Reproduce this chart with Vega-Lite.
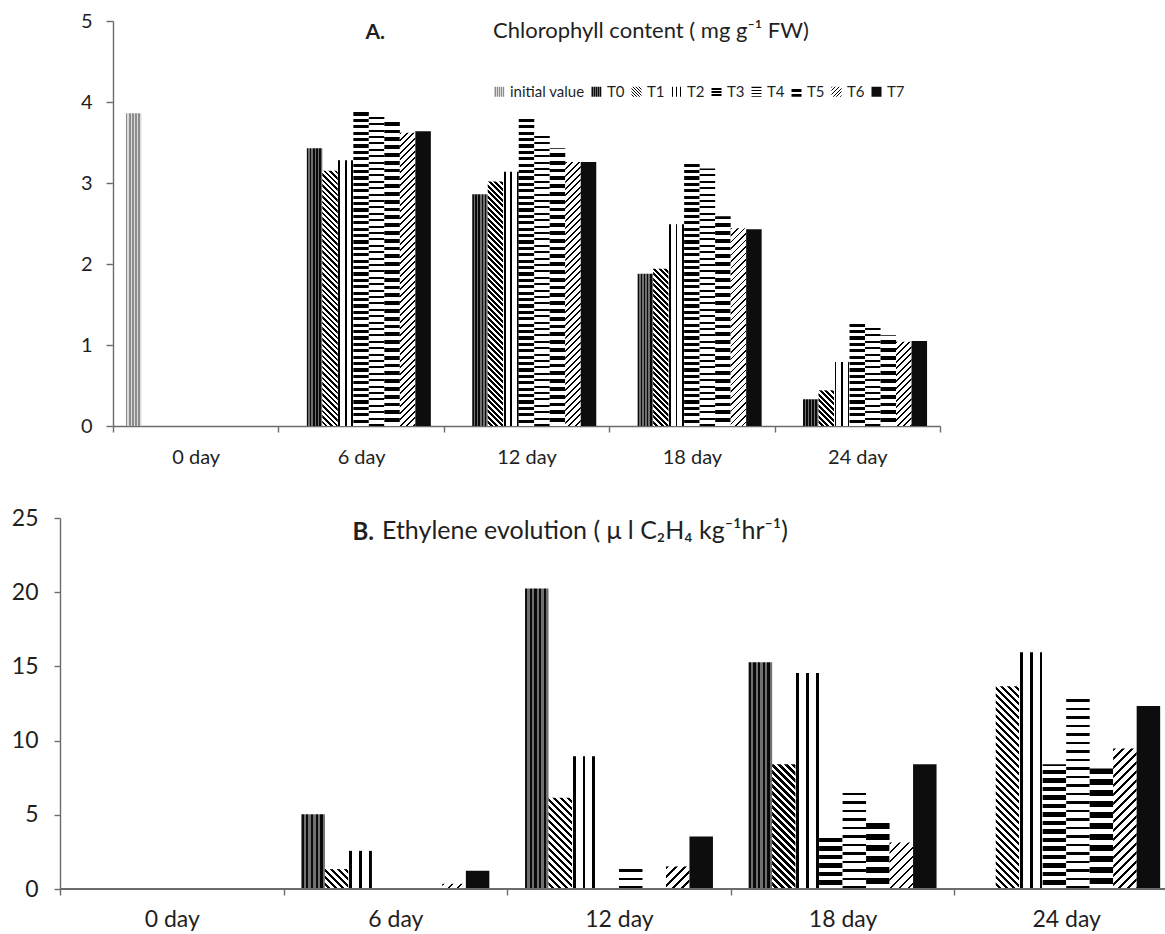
{
"$schema":"https://vega.github.io/schema/vega-lite/v6.json",
"background":"white",
"padding":{"left":11,"top":11,"right":0,"bottom":0},
"config":{"font":"Lato","view":{"stroke":null},"axis":{"grid":false,"labelColor":"#1f1f1f","titleColor":"#1f1f1f","domainColor":"#6b6b6b","tickColor":"#6b6b6b","domainWidth":1.4,"tickWidth":1.4,"labelFont":"Lato","titleFont":"Lato"},"title":{"color":"#1f1f1f","font":"Lato"},"legend":{"labelColor":"#1f1f1f","labelFont":"Lato"}},
"params":[
{"name":"pSQ","value":[{"offset":0,"color":"#fff"},{"offset":0.01,"color":"#fff"},{"offset":0.01,"color":"#000"},{"offset":0.02,"color":"#000"},{"offset":0.02,"color":"#fff"},{"offset":0.03,"color":"#fff"},{"offset":0.03,"color":"#000"},{"offset":0.04,"color":"#000"},{"offset":0.04,"color":"#fff"},{"offset":0.05,"color":"#fff"},{"offset":0.05,"color":"#000"},{"offset":0.06,"color":"#000"},{"offset":0.06,"color":"#fff"},{"offset":0.07,"color":"#fff"},{"offset":0.07,"color":"#000"},{"offset":0.08,"color":"#000"},{"offset":0.08,"color":"#fff"},{"offset":0.09,"color":"#fff"},{"offset":0.09,"color":"#000"},{"offset":0.1,"color":"#000"},{"offset":0.1,"color":"#fff"},{"offset":0.11,"color":"#fff"},{"offset":0.11,"color":"#000"},{"offset":0.12,"color":"#000"},{"offset":0.12,"color":"#fff"},{"offset":0.13,"color":"#fff"},{"offset":0.13,"color":"#000"},{"offset":0.14,"color":"#000"},{"offset":0.14,"color":"#fff"},{"offset":0.15,"color":"#fff"},{"offset":0.15,"color":"#000"},{"offset":0.16,"color":"#000"},{"offset":0.16,"color":"#fff"},{"offset":0.17,"color":"#fff"},{"offset":0.17,"color":"#000"},{"offset":0.18,"color":"#000"},{"offset":0.18,"color":"#fff"},{"offset":0.19,"color":"#fff"},{"offset":0.19,"color":"#000"},{"offset":0.2,"color":"#000"},{"offset":0.2,"color":"#fff"},{"offset":0.21,"color":"#fff"},{"offset":0.21,"color":"#000"},{"offset":0.22,"color":"#000"},{"offset":0.22,"color":"#fff"},{"offset":0.23,"color":"#fff"},{"offset":0.23,"color":"#000"},{"offset":0.24,"color":"#000"},{"offset":0.24,"color":"#fff"},{"offset":0.25,"color":"#fff"},{"offset":0.25,"color":"#000"},{"offset":0.26,"color":"#000"},{"offset":0.26,"color":"#fff"},{"offset":0.27,"color":"#fff"},{"offset":0.27,"color":"#000"},{"offset":0.28,"color":"#000"},{"offset":0.28,"color":"#fff"},{"offset":0.29,"color":"#fff"},{"offset":0.29,"color":"#000"},{"offset":0.3,"color":"#000"},{"offset":0.3,"color":"#fff"},{"offset":0.31,"color":"#fff"},{"offset":0.31,"color":"#000"},{"offset":0.32,"color":"#000"},{"offset":0.32,"color":"#fff"},{"offset":0.33,"color":"#fff"},{"offset":0.33,"color":"#000"},{"offset":0.34,"color":"#000"},{"offset":0.34,"color":"#fff"},{"offset":0.35,"color":"#fff"},{"offset":0.35,"color":"#000"},{"offset":0.36,"color":"#000"},{"offset":0.36,"color":"#fff"},{"offset":0.37,"color":"#fff"},{"offset":0.37,"color":"#000"},{"offset":0.38,"color":"#000"},{"offset":0.38,"color":"#fff"},{"offset":0.39,"color":"#fff"},{"offset":0.39,"color":"#000"},{"offset":0.4,"color":"#000"},{"offset":0.4,"color":"#fff"},{"offset":0.41,"color":"#fff"},{"offset":0.41,"color":"#000"},{"offset":0.42,"color":"#000"},{"offset":0.42,"color":"#fff"},{"offset":0.43,"color":"#fff"},{"offset":0.43,"color":"#000"},{"offset":0.44,"color":"#000"},{"offset":0.44,"color":"#fff"},{"offset":0.45,"color":"#fff"},{"offset":0.45,"color":"#000"},{"offset":0.46,"color":"#000"},{"offset":0.46,"color":"#fff"},{"offset":0.47,"color":"#fff"},{"offset":0.47,"color":"#000"},{"offset":0.48,"color":"#000"},{"offset":0.48,"color":"#fff"},{"offset":0.49,"color":"#fff"},{"offset":0.49,"color":"#000"},{"offset":0.5,"color":"#000"},{"offset":0.5,"color":"#fff"},{"offset":0.51,"color":"#fff"},{"offset":0.51,"color":"#000"},{"offset":0.52,"color":"#000"},{"offset":0.52,"color":"#fff"},{"offset":0.53,"color":"#fff"},{"offset":0.53,"color":"#000"},{"offset":0.54,"color":"#000"},{"offset":0.54,"color":"#fff"},{"offset":0.55,"color":"#fff"},{"offset":0.55,"color":"#000"},{"offset":0.56,"color":"#000"},{"offset":0.56,"color":"#fff"},{"offset":0.57,"color":"#fff"},{"offset":0.57,"color":"#000"},{"offset":0.58,"color":"#000"},{"offset":0.58,"color":"#fff"},{"offset":0.59,"color":"#fff"},{"offset":0.59,"color":"#000"},{"offset":0.6,"color":"#000"},{"offset":0.6,"color":"#fff"},{"offset":0.61,"color":"#fff"},{"offset":0.61,"color":"#000"},{"offset":0.62,"color":"#000"},{"offset":0.62,"color":"#fff"},{"offset":0.63,"color":"#fff"},{"offset":0.63,"color":"#000"},{"offset":0.64,"color":"#000"},{"offset":0.64,"color":"#fff"},{"offset":0.65,"color":"#fff"},{"offset":0.65,"color":"#000"},{"offset":0.66,"color":"#000"},{"offset":0.66,"color":"#fff"},{"offset":0.67,"color":"#fff"},{"offset":0.67,"color":"#000"},{"offset":0.68,"color":"#000"},{"offset":0.68,"color":"#fff"},{"offset":0.69,"color":"#fff"},{"offset":0.69,"color":"#000"},{"offset":0.7,"color":"#000"},{"offset":0.7,"color":"#fff"},{"offset":0.71,"color":"#fff"},{"offset":0.71,"color":"#000"},{"offset":0.72,"color":"#000"},{"offset":0.72,"color":"#fff"},{"offset":0.73,"color":"#fff"},{"offset":0.73,"color":"#000"},{"offset":0.74,"color":"#000"},{"offset":0.74,"color":"#fff"},{"offset":0.75,"color":"#fff"},{"offset":0.75,"color":"#000"},{"offset":0.76,"color":"#000"},{"offset":0.76,"color":"#fff"},{"offset":0.77,"color":"#fff"},{"offset":0.77,"color":"#000"},{"offset":0.78,"color":"#000"},{"offset":0.78,"color":"#fff"},{"offset":0.79,"color":"#fff"},{"offset":0.79,"color":"#000"},{"offset":0.8,"color":"#000"},{"offset":0.8,"color":"#fff"},{"offset":0.81,"color":"#fff"},{"offset":0.81,"color":"#000"},{"offset":0.82,"color":"#000"},{"offset":0.82,"color":"#fff"},{"offset":0.83,"color":"#fff"},{"offset":0.83,"color":"#000"},{"offset":0.84,"color":"#000"},{"offset":0.84,"color":"#fff"},{"offset":0.85,"color":"#fff"},{"offset":0.85,"color":"#000"},{"offset":0.86,"color":"#000"},{"offset":0.86,"color":"#fff"},{"offset":0.87,"color":"#fff"},{"offset":0.87,"color":"#000"},{"offset":0.88,"color":"#000"},{"offset":0.88,"color":"#fff"},{"offset":0.89,"color":"#fff"},{"offset":0.89,"color":"#000"},{"offset":0.9,"color":"#000"},{"offset":0.9,"color":"#fff"},{"offset":0.91,"color":"#fff"},{"offset":0.91,"color":"#000"},{"offset":0.92,"color":"#000"},{"offset":0.92,"color":"#fff"},{"offset":0.93,"color":"#fff"},{"offset":0.93,"color":"#000"},{"offset":0.94,"color":"#000"},{"offset":0.94,"color":"#fff"},{"offset":0.95,"color":"#fff"},{"offset":0.95,"color":"#000"},{"offset":0.96,"color":"#000"},{"offset":0.96,"color":"#fff"},{"offset":0.97,"color":"#fff"},{"offset":0.97,"color":"#000"},{"offset":0.98,"color":"#000"},{"offset":0.98,"color":"#fff"},{"offset":0.99,"color":"#fff"},{"offset":0.99,"color":"#000"},{"offset":1,"color":"#000"}]},
{"name":"pTH","value":[{"offset":0,"color":"#000"},{"offset":0.006,"color":"#000"},{"offset":0.006,"color":"#fff"},{"offset":0.02,"color":"#fff"},{"offset":0.02,"color":"#000"},{"offset":0.026,"color":"#000"},{"offset":0.026,"color":"#fff"},{"offset":0.04,"color":"#fff"},{"offset":0.04,"color":"#000"},{"offset":0.046,"color":"#000"},{"offset":0.046,"color":"#fff"},{"offset":0.06,"color":"#fff"},{"offset":0.06,"color":"#000"},{"offset":0.066,"color":"#000"},{"offset":0.066,"color":"#fff"},{"offset":0.08,"color":"#fff"},{"offset":0.08,"color":"#000"},{"offset":0.086,"color":"#000"},{"offset":0.086,"color":"#fff"},{"offset":0.1,"color":"#fff"},{"offset":0.1,"color":"#000"},{"offset":0.106,"color":"#000"},{"offset":0.106,"color":"#fff"},{"offset":0.12,"color":"#fff"},{"offset":0.12,"color":"#000"},{"offset":0.126,"color":"#000"},{"offset":0.126,"color":"#fff"},{"offset":0.14,"color":"#fff"},{"offset":0.14,"color":"#000"},{"offset":0.146,"color":"#000"},{"offset":0.146,"color":"#fff"},{"offset":0.16,"color":"#fff"},{"offset":0.16,"color":"#000"},{"offset":0.166,"color":"#000"},{"offset":0.166,"color":"#fff"},{"offset":0.18,"color":"#fff"},{"offset":0.18,"color":"#000"},{"offset":0.186,"color":"#000"},{"offset":0.186,"color":"#fff"},{"offset":0.2,"color":"#fff"},{"offset":0.2,"color":"#000"},{"offset":0.206,"color":"#000"},{"offset":0.206,"color":"#fff"},{"offset":0.22,"color":"#fff"},{"offset":0.22,"color":"#000"},{"offset":0.226,"color":"#000"},{"offset":0.226,"color":"#fff"},{"offset":0.24,"color":"#fff"},{"offset":0.24,"color":"#000"},{"offset":0.246,"color":"#000"},{"offset":0.246,"color":"#fff"},{"offset":0.26,"color":"#fff"},{"offset":0.26,"color":"#000"},{"offset":0.266,"color":"#000"},{"offset":0.266,"color":"#fff"},{"offset":0.28,"color":"#fff"},{"offset":0.28,"color":"#000"},{"offset":0.286,"color":"#000"},{"offset":0.286,"color":"#fff"},{"offset":0.3,"color":"#fff"},{"offset":0.3,"color":"#000"},{"offset":0.306,"color":"#000"},{"offset":0.306,"color":"#fff"},{"offset":0.32,"color":"#fff"},{"offset":0.32,"color":"#000"},{"offset":0.326,"color":"#000"},{"offset":0.326,"color":"#fff"},{"offset":0.34,"color":"#fff"},{"offset":0.34,"color":"#000"},{"offset":0.346,"color":"#000"},{"offset":0.346,"color":"#fff"},{"offset":0.36,"color":"#fff"},{"offset":0.36,"color":"#000"},{"offset":0.366,"color":"#000"},{"offset":0.366,"color":"#fff"},{"offset":0.38,"color":"#fff"},{"offset":0.38,"color":"#000"},{"offset":0.386,"color":"#000"},{"offset":0.386,"color":"#fff"},{"offset":0.4,"color":"#fff"},{"offset":0.4,"color":"#000"},{"offset":0.406,"color":"#000"},{"offset":0.406,"color":"#fff"},{"offset":0.42,"color":"#fff"},{"offset":0.42,"color":"#000"},{"offset":0.426,"color":"#000"},{"offset":0.426,"color":"#fff"},{"offset":0.44,"color":"#fff"},{"offset":0.44,"color":"#000"},{"offset":0.446,"color":"#000"},{"offset":0.446,"color":"#fff"},{"offset":0.46,"color":"#fff"},{"offset":0.46,"color":"#000"},{"offset":0.466,"color":"#000"},{"offset":0.466,"color":"#fff"},{"offset":0.48,"color":"#fff"},{"offset":0.48,"color":"#000"},{"offset":0.486,"color":"#000"},{"offset":0.486,"color":"#fff"},{"offset":0.5,"color":"#fff"},{"offset":0.5,"color":"#000"},{"offset":0.506,"color":"#000"},{"offset":0.506,"color":"#fff"},{"offset":0.52,"color":"#fff"},{"offset":0.52,"color":"#000"},{"offset":0.526,"color":"#000"},{"offset":0.526,"color":"#fff"},{"offset":0.54,"color":"#fff"},{"offset":0.54,"color":"#000"},{"offset":0.546,"color":"#000"},{"offset":0.546,"color":"#fff"},{"offset":0.56,"color":"#fff"},{"offset":0.56,"color":"#000"},{"offset":0.566,"color":"#000"},{"offset":0.566,"color":"#fff"},{"offset":0.58,"color":"#fff"},{"offset":0.58,"color":"#000"},{"offset":0.586,"color":"#000"},{"offset":0.586,"color":"#fff"},{"offset":0.6,"color":"#fff"},{"offset":0.6,"color":"#000"},{"offset":0.606,"color":"#000"},{"offset":0.606,"color":"#fff"},{"offset":0.62,"color":"#fff"},{"offset":0.62,"color":"#000"},{"offset":0.626,"color":"#000"},{"offset":0.626,"color":"#fff"},{"offset":0.64,"color":"#fff"},{"offset":0.64,"color":"#000"},{"offset":0.646,"color":"#000"},{"offset":0.646,"color":"#fff"},{"offset":0.66,"color":"#fff"},{"offset":0.66,"color":"#000"},{"offset":0.666,"color":"#000"},{"offset":0.666,"color":"#fff"},{"offset":0.68,"color":"#fff"},{"offset":0.68,"color":"#000"},{"offset":0.686,"color":"#000"},{"offset":0.686,"color":"#fff"},{"offset":0.7,"color":"#fff"},{"offset":0.7,"color":"#000"},{"offset":0.706,"color":"#000"},{"offset":0.706,"color":"#fff"},{"offset":0.72,"color":"#fff"},{"offset":0.72,"color":"#000"},{"offset":0.726,"color":"#000"},{"offset":0.726,"color":"#fff"},{"offset":0.74,"color":"#fff"},{"offset":0.74,"color":"#000"},{"offset":0.746,"color":"#000"},{"offset":0.746,"color":"#fff"},{"offset":0.76,"color":"#fff"},{"offset":0.76,"color":"#000"},{"offset":0.766,"color":"#000"},{"offset":0.766,"color":"#fff"},{"offset":0.78,"color":"#fff"},{"offset":0.78,"color":"#000"},{"offset":0.786,"color":"#000"},{"offset":0.786,"color":"#fff"},{"offset":0.8,"color":"#fff"},{"offset":0.8,"color":"#000"},{"offset":0.806,"color":"#000"},{"offset":0.806,"color":"#fff"},{"offset":0.82,"color":"#fff"},{"offset":0.82,"color":"#000"},{"offset":0.826,"color":"#000"},{"offset":0.826,"color":"#fff"},{"offset":0.84,"color":"#fff"},{"offset":0.84,"color":"#000"},{"offset":0.846,"color":"#000"},{"offset":0.846,"color":"#fff"},{"offset":0.86,"color":"#fff"},{"offset":0.86,"color":"#000"},{"offset":0.866,"color":"#000"},{"offset":0.866,"color":"#fff"},{"offset":0.88,"color":"#fff"},{"offset":0.88,"color":"#000"},{"offset":0.886,"color":"#000"},{"offset":0.886,"color":"#fff"},{"offset":0.9,"color":"#fff"},{"offset":0.9,"color":"#000"},{"offset":0.906,"color":"#000"},{"offset":0.906,"color":"#fff"},{"offset":0.92,"color":"#fff"},{"offset":0.92,"color":"#000"},{"offset":0.926,"color":"#000"},{"offset":0.926,"color":"#fff"},{"offset":0.94,"color":"#fff"},{"offset":0.94,"color":"#000"},{"offset":0.946,"color":"#000"},{"offset":0.946,"color":"#fff"},{"offset":0.96,"color":"#fff"},{"offset":0.96,"color":"#000"},{"offset":0.966,"color":"#000"},{"offset":0.966,"color":"#fff"},{"offset":0.98,"color":"#fff"},{"offset":0.98,"color":"#000"},{"offset":0.986,"color":"#000"},{"offset":0.986,"color":"#fff"},{"offset":1,"color":"#fff"}]},
{"name":"pLT","value":[{"offset":0,"color":"#8c8c8c"},{"offset":0.1,"color":"#8c8c8c"},{"offset":0.1,"color":"#dadada"},{"offset":0.2,"color":"#dadada"},{"offset":0.2,"color":"#8c8c8c"},{"offset":0.3,"color":"#8c8c8c"},{"offset":0.3,"color":"#dadada"},{"offset":0.4,"color":"#dadada"},{"offset":0.4,"color":"#8c8c8c"},{"offset":0.5,"color":"#8c8c8c"},{"offset":0.5,"color":"#dadada"},{"offset":0.6,"color":"#dadada"},{"offset":0.6,"color":"#8c8c8c"},{"offset":0.7,"color":"#8c8c8c"},{"offset":0.7,"color":"#dadada"},{"offset":0.8,"color":"#dadada"},{"offset":0.8,"color":"#8c8c8c"},{"offset":0.9,"color":"#8c8c8c"},{"offset":0.9,"color":"#dadada"},{"offset":1,"color":"#dadada"}]},
{"name":"pDK","value":[{"offset":0,"color":"#0a0a0a"},{"offset":0.1,"color":"#0a0a0a"},{"offset":0.1,"color":"#707070"},{"offset":0.2,"color":"#707070"},{"offset":0.2,"color":"#0a0a0a"},{"offset":0.3,"color":"#0a0a0a"},{"offset":0.3,"color":"#707070"},{"offset":0.4,"color":"#707070"},{"offset":0.4,"color":"#0a0a0a"},{"offset":0.5,"color":"#0a0a0a"},{"offset":0.5,"color":"#707070"},{"offset":0.6,"color":"#707070"},{"offset":0.6,"color":"#0a0a0a"},{"offset":0.7,"color":"#0a0a0a"},{"offset":0.7,"color":"#707070"},{"offset":0.8,"color":"#707070"},{"offset":0.8,"color":"#0a0a0a"},{"offset":0.9,"color":"#0a0a0a"},{"offset":0.9,"color":"#707070"},{"offset":1,"color":"#707070"}]},
{"name":"pVL","value":[{"offset":0,"color":"#fff"},{"offset":0.03,"color":"#fff"},{"offset":0.03,"color":"#000"},{"offset":0.15,"color":"#000"},{"offset":0.15,"color":"#fff"},{"offset":0.45,"color":"#fff"},{"offset":0.45,"color":"#000"},{"offset":0.57,"color":"#000"},{"offset":0.57,"color":"#fff"},{"offset":0.87,"color":"#fff"},{"offset":0.87,"color":"#000"},{"offset":0.99,"color":"#000"},{"offset":0.99,"color":"#fff"},{"offset":1,"color":"#fff"}]}
],
"datasets":{
"chl":[
{"day":"0 day","series":"initial value","value":3.86},
{"day":"6 day","series":"T0","value":3.43},{"day":"6 day","series":"T1","value":3.15},{"day":"6 day","series":"T2","value":3.28},{"day":"6 day","series":"T3","value":3.88},{"day":"6 day","series":"T4","value":3.84},{"day":"6 day","series":"T5","value":3.79},{"day":"6 day","series":"T6","value":3.62},{"day":"6 day","series":"T7","value":3.64},
{"day":"12 day","series":"T0","value":2.86},{"day":"12 day","series":"T1","value":3.02},{"day":"12 day","series":"T2","value":3.14},{"day":"12 day","series":"T3","value":3.8},{"day":"12 day","series":"T4","value":3.62},{"day":"12 day","series":"T5","value":3.43},{"day":"12 day","series":"T6","value":3.26},{"day":"12 day","series":"T7","value":3.26},
{"day":"18 day","series":"T0","value":1.88},{"day":"18 day","series":"T1","value":1.94},{"day":"18 day","series":"T2","value":2.49},{"day":"18 day","series":"T3","value":3.26},{"day":"18 day","series":"T4","value":3.18},{"day":"18 day","series":"T5","value":2.59},{"day":"18 day","series":"T6","value":2.44},{"day":"18 day","series":"T7","value":2.43},
{"day":"24 day","series":"T0","value":0.33},{"day":"24 day","series":"T1","value":0.44},{"day":"24 day","series":"T2","value":0.79},{"day":"24 day","series":"T3","value":1.28},{"day":"24 day","series":"T4","value":1.25},{"day":"24 day","series":"T5","value":1.12},{"day":"24 day","series":"T6","value":1.04},{"day":"24 day","series":"T7","value":1.05}
],
"eth":[
{"day":"6 day","series":"T0","value":5.03},{"day":"6 day","series":"T1","value":1.34},{"day":"6 day","series":"T2","value":2.57},{"day":"6 day","series":"T6","value":0.35},{"day":"6 day","series":"T7","value":1.23},
{"day":"12 day","series":"T0","value":20.25},{"day":"12 day","series":"T1","value":6.15},{"day":"12 day","series":"T2","value":8.95},{"day":"12 day","series":"T4","value":1.45},{"day":"12 day","series":"T6","value":1.52},{"day":"12 day","series":"T7","value":3.53},
{"day":"18 day","series":"T0","value":15.28},{"day":"18 day","series":"T1","value":8.41},{"day":"18 day","series":"T2","value":14.56},{"day":"18 day","series":"T3","value":3.69},{"day":"18 day","series":"T4","value":6.67},{"day":"18 day","series":"T5","value":4.65},{"day":"18 day","series":"T6","value":3.13},{"day":"18 day","series":"T7","value":8.41},
{"day":"24 day","series":"T1","value":13.67},{"day":"24 day","series":"T2","value":15.95},{"day":"24 day","series":"T3","value":8.41},{"day":"24 day","series":"T4","value":12.98},{"day":"24 day","series":"T5","value":8.12},{"day":"24 day","series":"T6","value":9.46},{"day":"24 day","series":"T7","value":12.33}
]
},
"concat":[
{
"width":880,"height":405,
"data":{"name":"chl"},
"title":{"text":"Chlorophyll content ( mg g⁻¹ FW)","anchor":"start","frame":"group","dx":433,"offset":-42,"baseline":"middle","fontSize":22,"fontWeight":"normal"},
"mark":{"type":"bar"},
"encoding":{
"x":{"field":"day","type":"nominal","sort":null,"scale":{"domain":["0 day","6 day","12 day","18 day","24 day"],"range":[53,880],"paddingInner":0,"paddingOuter":0},"axis":{"title":null,"labelAngle":0,"labelFontSize":20,"labelPadding":15,"tickSize":6,"tickBand":"extent"}},
"xOffset":{"field":"series","type":"nominal","sort":null,"scale":{"domain":["initial value","T0","T1","T2","T3","T4","T5","T6","T7"],"paddingInner":0,"paddingOuter":0.835}},
"y":{"field":"value","type":"quantitative","scale":{"domain":[0,5],"nice":false},"axis":{"values":[0,1,2,3,4,5],"offset":-53,"labelFontSize":20,"labelPadding":14,"tickSize":7,"title":"A.","titleAngle":0,"titleFontWeight":"bold","titleFontSize":21,"titleAlign":"left","titleBaseline":"middle","titleX":252,"titleY":11}},
"color":{"field":"series","type":"nominal","sort":null,
"scale":{"domain":["initial value","T0","T1","T2","T3","T4","T5","T6","T7"],"range":[
{"expr":"{gradient:'linear',x1:0,y1:0,x2:1,y2:0,stops:pLT}"},
{"expr":"{gradient:'linear',x1:0,y1:0,x2:1,y2:0,stops:pDK}"},
{"expr":"{gradient:'linear',x1:0,y1:1,x2:7.5,y2:-6.5,stops:pSQ}"},
{"expr":"{gradient:'linear',x1:0,y1:0,x2:1,y2:0,stops:pVL}"},
{"expr":"{gradient:'linear',x1:1,y1:0,x2:1,y2:15,stops:pSQ}"},
{"expr":"{gradient:'linear',x1:1,y1:0,x2:1,y2:15,stops:pTH}"},
{"expr":"{gradient:'linear',x1:1,y1:0,x2:1,y2:25,stops:pSQ}"},
{"expr":"{gradient:'linear',x1:0,y1:0,x2:9,y2:9,stops:pTH}"},
"#0d0d0d"]},
"legend":{"title":null,"orient":"none","legendX":432,"legendY":63,"direction":"horizontal","columns":9,"symbolType":"square","symbolSize":100,"symbolStrokeWidth":0,"labelFontSize":15,"labelOffset":3,"columnPadding":4,"padding":0},
"condition":{"test":"true","value":{"expr":"datum.series==='initial value'?{gradient:'linear',x1:0,y1:0,x2:1,y2:0,stops:pLT}:datum.series==='T0'?{gradient:'linear',x1:0,y1:0,x2:1,y2:0,stops:pDK}:datum.series==='T1'?{gradient:'linear',x1:0,y1:1,x2:4262.5/(240.25+6561*datum.value*datum.value),y2:1-22275*datum.value/(240.25+6561*datum.value*datum.value),stops:pSQ}:datum.series==='T2'?{gradient:'linear',x1:0,y1:0,x2:1,y2:0,stops:pVL}:datum.series==='T3'?{gradient:'linear',x1:1,y1:1,x2:1,y2:1-3.951/datum.value,stops:pSQ}:datum.series==='T4'?{gradient:'linear',x1:1,y1:1,x2:1,y2:1-3.951/datum.value,stops:pTH}:datum.series==='T5'?{gradient:'linear',x1:1,y1:1,x2:1,y2:1-4.815/datum.value,stops:pSQ}:datum.series==='T6'?{gradient:'linear',x1:0,y1:0,x2:5037.5/(240.25+6561*datum.value*datum.value),y2:26325*datum.value/(240.25+6561*datum.value*datum.value),stops:pTH}:'#0d0d0d'"}}
}
}
},
{
"width":1105,"height":371,
"data":{"name":"eth"},
"title":{"text":"Ethylene evolution ( μ l C₂H₄ kg⁻¹hr⁻¹)","anchor":"start","frame":"group","dx":322,"offset":-49,"baseline":"middle","fontSize":25,"fontWeight":"normal"},
"layer":[
{"mark":{"type":"bar"},
"encoding":{
"x":{"field":"day","type":"nominal","sort":null,"scale":{"domain":["0 day","6 day","12 day","18 day","24 day"],"range":[0,1118],"paddingInner":0,"paddingOuter":0},"axis":{"title":null,"labelAngle":0,"labelFontSize":23,"labelPadding":13,"tickSize":6,"domain":false,"tickOffset":-111.8,"labelOffset":111.8}},
"xOffset":{"field":"series","type":"nominal","sort":null,"scale":{"domain":["T0","T1","T2","T3","T4","T5","T6","T7"],"paddingInner":0,"paddingOuter":0.76}},
"y":{"field":"value","type":"quantitative","scale":{"domain":[0,25],"nice":false},"axis":{"values":[0,5,10,15,20,25],"labelFontSize":23,"labelPadding":16,"tickSize":6,"title":"B.","titleAngle":0,"titleFontWeight":"bold","titleFontSize":24,"titleAlign":"left","titleBaseline":"middle","titleX":292,"titleY":14}},
"color":{"field":"series","type":"nominal","sort":null,"legend":null,"scale":{"domain":["T0","T1","T2","T3","T4","T5","T6","T7"],"range":["#333333","#555555","#777777","#999999","#aaaaaa","#bbbbbb","#cccccc","#000000"]},
"condition":{"test":"true","value":{"expr":"datum.series==='T0'?{gradient:'linear',x1:0,y1:0,x2:1,y2:0,stops:pDK}:datum.series==='T1'?{gradient:'linear',x1:0,y1:1,x2:8225/(552.25+220.23*datum.value*datum.value),y2:1-5194*datum.value/(552.25+220.23*datum.value*datum.value),stops:pSQ}:datum.series==='T2'?{gradient:'linear',x1:0,y1:0,x2:1,y2:0,stops:pVL}:datum.series==='T3'?{gradient:'linear',x1:1,y1:1,x2:1,y2:1-28.64/datum.value,stops:pSQ}:datum.series==='T4'?{gradient:'linear',x1:1,y1:1,x2:1,y2:1-28.64/datum.value,stops:pTH}:datum.series==='T5'?{gradient:'linear',x1:1,y1:1,x2:1,y2:1-37.06/datum.value,stops:pSQ}:datum.series==='T6'?{gradient:'linear',x1:0,y1:0,x2:10575/(552.25+220.23*datum.value*datum.value),y2:6678*datum.value/(552.25+220.23*datum.value*datum.value),stops:pTH}:'#0d0d0d'"}}
}
}
},
{"mark":{"type":"rule","color":"#6b6b6b","strokeWidth":1.4},"encoding":{"y":{"datum":0,"type":"quantitative"}}}
]
}
],
"columns":1,
"align":"each",
"spacing":40,
"resolve":{"scale":{"color":"independent","xOffset":"independent","x":"independent","y":"independent"},"legend":{"color":"independent"}}
}
